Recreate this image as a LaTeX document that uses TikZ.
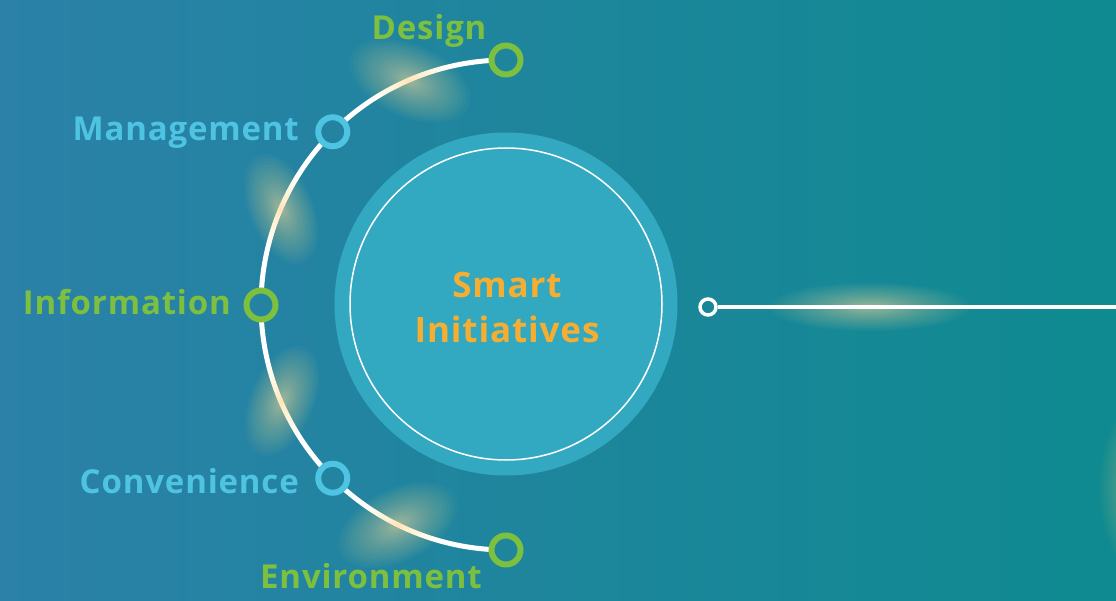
\documentclass[tikz,border=0pt]{standalone}
\usepackage{fontspec}
\setmainfont{Open Sans}[LetterSpace=2.5]
\definecolor{bgL}{HTML}{2B81A8}
\definecolor{bgR}{HTML}{0F8A90}
\definecolor{hubcol}{HTML}{33A9C1}
\definecolor{grn}{HTML}{7DBF3F}
\definecolor{lblue}{HTML}{4EC4E2}
\definecolor{orng}{HTML}{F5AE32}
\definecolor{glowcol}{HTML}{FFE49A}
\tikzset{
  ringnode/.style={circle, draw=#1, line width=6pt, minimum size=29pt, inner sep=0pt},
  arcline/.style={white, line width=5pt},
  lbl/.style={font=\fontsize{33}{36}\selectfont\bfseries, text=#1, inner sep=0pt},
}
\newcommand{\glowblob}[5]{% x y rotation a b
  \begin{scope}[shift={(#1,#2)}, rotate=#3]
    \foreach \k in {1,...,30}{
      \pgfmathsetmacro{\fr}{(\k/30)*(\k/30)}
      \fill[glowcol, opacity=0.035] (0,0) ellipse ({#4*\fr} and {#5*\fr});
    }
  \end{scope}}
\begin{document}
\begin{tikzpicture}[x=1pt,y=-1pt]
  \shade[left color=bgL, right color=bgR] (0,0) rectangle (1116,601);
  \useasboundingbox (0,0) rectangle (1116,601);
  \coordinate (cen) at (506,305);
  % hub
  \node[circle, fill=hubcol, minimum size=343pt, inner sep=0pt] (hub) at (506,304) {};
  \draw[white, line width=1.5pt] (hub.center) circle (156);
  \node[lbl=orng, align=center, font=\fontsize{35}{45}\selectfont\bfseries] (title) at (507,307) {Smart\\Initiatives};
  % arc segments between rings
  \draw[arcline] ([shift={(-94:245)}]cen) arc[start angle=-94, end angle=-131, radius=245];
  \draw[arcline] ([shift={(-139:245)}]cen) arc[start angle=-139, end angle=-176, radius=245];
  \draw[arcline] ([shift={(-184:245)}]cen) arc[start angle=-184, end angle=-221, radius=245];
  \draw[arcline] ([shift={(-229:245)}]cen) arc[start angle=-229, end angle=-266, radius=245];
  % glows on arc
  \glowblob{410}{81}{-24}{64}{36}
  \glowblob{281}{209}{-67}{58}{32}
  \glowblob{282}{401}{-113}{58}{32}
  \glowblob{398}{525}{-154}{64}{36}
  % rings
  \node[ringnode=grn] (design) at ([shift={(-90:245)}]cen) {};
  \node[ringnode=lblue] (mgmt) at ([shift={(-135:245)}]cen) {};
  \node[ringnode=grn] (info) at ([shift={(-180:245)}]cen) {};
  \node[ringnode=lblue] (conv) at ([shift={(-225:245)}]cen) {};
  \node[ringnode=grn] (env) at ([shift={(-270:245)}]cen) {};
  % labels
  \node[lbl=grn, anchor=base] (tdesign) at (429,40) {Design};
  \node[lbl=lblue, anchor=base east] (tmgmt) at (299,141) {Management};
  \node[lbl=grn, anchor=base east] (tinfo) at (231,315) {Information};
  \node[lbl=lblue, anchor=base east] (tconv) at (299,493) {Convenience};
  \node[lbl=grn, anchor=base] (tenv) at (371,588) {Environment};
  % right connector
  \coordinate (lineend) at (1116,307);
  \glowblob{870}{307}{0}{100}{24}
  \begin{scope}[shift={(1140,488)}]
    \foreach \k in {1,...,30}{
      \pgfmathsetmacro{\fr}{(\k/30)*(\k/30)}
      \fill[glowcol!70!grn, opacity=0.035] (0,0) ellipse ({40*\fr} and {85*\fr});
    }
  \end{scope}
  \node[circle, draw=white, line width=3.5pt, minimum size=16pt, inner sep=0pt] (dot) at (708,307) {};
  \draw[white, line width=4pt] (dot) -- (lineend);
\end{tikzpicture}
\end{document}
